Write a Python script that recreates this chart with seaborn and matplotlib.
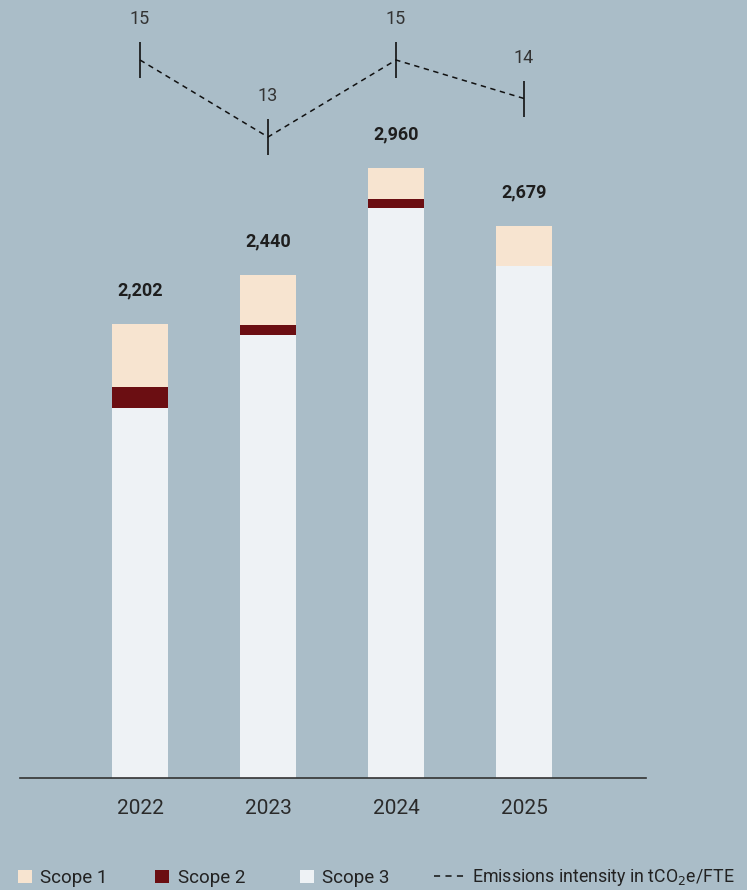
import matplotlib
matplotlib.use("Agg")
import matplotlib.pyplot as plt
from matplotlib.patches import Patch
from matplotlib.lines import Line2D
import seaborn as sns
import pandas as pd

# Emissions by scope (tCO2e) and intensity per FTE
years = ["2022", "2023", "2024", "2025"]
scope1 = [305, 245, 150, 198]
scope2 = [103, 48, 48, 0]
scope3 = [1794, 2147, 2762, 2481]
totals = [2202, 2440, 2960, 2679]
intensity = [15, 13, 15, 14]

BG = "#aabdc8"
C1, C2, C3 = "#f7e4d0", "#6b0e12", "#eef2f5"
INK = "#1e1e1e"

sns.set_theme(style="white")
plt.rcParams["font.family"] = ["Roboto", "DejaVu Sans"]

W, H = 747, 890
fig = plt.figure(figsize=(W / 100, H / 100), dpi=100, facecolor=BG)
ax = fig.add_axes([20 / W, 112 / H, 626 / W, 778 / H])
ax.set_facecolor(BG)

df = pd.DataFrame({"year": years, "s1": scope1, "s2": scope2, "s3": scope3, "total": totals})
df["s23"] = df["s2"] + df["s3"]
df["s123"] = df["s1"] + df["s23"]

w = 0.445
sns.barplot(data=df, x="year", y="s123", color=C1, width=w, saturation=1, ax=ax, linewidth=0)
sns.barplot(data=df, x="year", y="s23", color=C2, width=w, saturation=1, ax=ax, linewidth=0)
sns.barplot(data=df, x="year", y="s3", color=C3, width=w, saturation=1, ax=ax, linewidth=0)

ax.set_xlim(-0.9375, 3.953)
ax.set_ylim(0, 3773)
for i, t in enumerate(totals):
    ax.annotate(f"{t:,}", (i, df["s123"][i]), xytext=(0, 24), textcoords="offset points",
                ha="center", va="center", fontsize=13, fontweight="bold", color=INK)

for s in ["top", "right", "left"]:
    ax.spines[s].set_visible(False)
ax.spines["bottom"].set_color("#333333")
ax.spines["bottom"].set_linewidth(1.2)
ax.set_yticks([])
ax.set_xlabel("")
ax.set_ylabel("")
ax.tick_params(axis="x", length=0, pad=15, labelsize=15, labelcolor="#2a2a2a")

# Intensity line on a secondary scale
ax2 = ax.twinx()
ax2.set_ylim(15 - 718 / 38.5, 15 + 60 / 38.5)
idf = pd.DataFrame({"x": range(len(years)), "v": intensity})
sns.lineplot(data=idf, x="x", y="v", ax=ax2, color="#111111", linewidth=1.1,
             linestyle=(0, (3.5, 3)), marker="|", markersize=26, markeredgewidth=1.2,
             markeredgecolor="#111111")
for i, v in enumerate(intensity):
    ax2.annotate(f"{v}", (i, v), xytext=(0, 29.5), textcoords="offset points",
                 ha="center", va="center", fontsize=13, color="#333333")
ax2.set_axis_off()
ax2.set_xlim(ax.get_xlim())

# Legend entries placed one by one along the bottom edge
entries = [
    (Patch(facecolor=C1, edgecolor="none"), "Scope 1", 18, 0.75, 13.5),
    (Patch(facecolor=C2, edgecolor="none"), "Scope 2", 155, 0.75, 13.5),
    (Patch(facecolor=C3, edgecolor="none"), "Scope 3", 300, 0.75, 13.5),
    (Line2D([0], [0], color="#111111", linewidth=1.1, linestyle=(0, (4, 3.5))),
     "Emissions intensity in tCO$_2$e/FTE", 434, 1.6, 12.8),
]
for handle, label, x, hl, fs in entries:
    leg = fig.legend([handle], [label], loc="center left",
                     bbox_to_anchor=(x / W, 12 / H), bbox_transform=fig.transFigure,
                     frameon=False, fontsize=fs, handlelength=hl * 13.5 / fs,
                     handleheight=0.75, handletextpad=0.45 * 13.5 / fs,
                     borderpad=0, borderaxespad=0, labelcolor="#222222")
    if isinstance(handle, Line2D):
        leg.legend_handles[0].set_linestyle((0, (4, 3.5)))

fig.savefig("out.png", dpi=100, facecolor=BG)
